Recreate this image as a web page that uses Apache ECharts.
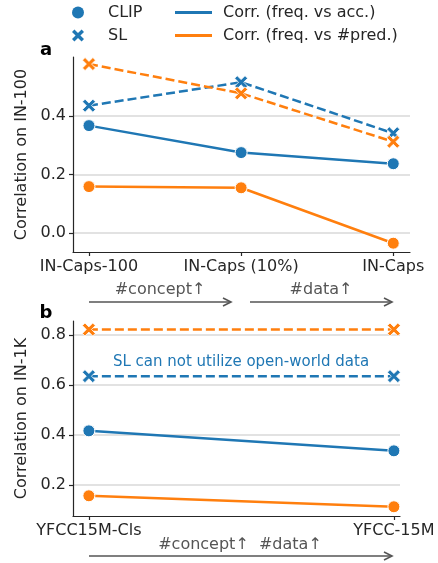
<!DOCTYPE html>
<html><head><meta charset="utf-8">
<script src="https://cdn.jsdelivr.net/npm/echarts@6/dist/echarts.min.js"></script>
<style>html,body{margin:0;padding:0;background:#fff}#c{width:438px;height:563px}</style>
</head><body><div id="c"></div>
<script>
const categoriesA = ['IN-Caps-100', 'IN-Caps (10%)', 'IN-Caps'];
const clipAccA = [0.367, 0.275, 0.237];
const clipPredA = [0.159, 0.155, -0.034];
const slAccA = [0.435, 0.515, 0.341];
const slPredA = [0.577, 0.477, 0.312];
const yTicksA = [0, 0.2, 0.4];

const categoriesB = ['YFCC15M-Cls', 'YFCC-15M'];
const clipAccB = [0.417, 0.337];
const clipPredB = [0.157, 0.113];
const slAccB = [0.636, 0.636];
const slPredB = [0.823, 0.823];
const yTicksB = [0.2, 0.4, 0.6, 0.8];

const BLUE = '#1f77b4', ORANGE = '#ff7f0e', INK = '#262626', GREY = '#555555';
const FONT = 'DejaVu Sans';
const FS = 16;
const XSYM = 'path://M0,2 L2,0 L5,3 L8,0 L10,2 L7,5 L10,8 L8,10 L5,7 L2,10 L0,8 L3,5 Z';

const chart = echarts.init(document.getElementById('c'), null, {renderer: 'canvas'});

function toPts(arr) { return arr.map((v, i) => [i, v]); }
function xAxisFor(cats, gi, min, max) {
  const idx = cats.map((_, i) => i);
  return {
    type: 'value', gridIndex: gi, min: min, max: max,
    axisLine: {show: true, onZero: false, lineStyle: {color: INK, width: 1.2}},
    axisTick: {show: true, customValues: idx, length: 4, lineStyle: {color: INK, width: 1.2}},
    axisLabel: {customValues: idx, formatter: v => cats[Math.round(v)], color: INK, fontSize: FS, fontFamily: FONT, margin: 7},
    splitLine: {show: false}
  };
}
function yAxisFor(ticks, gi, min, max, name) {
  return {
    type: 'value', gridIndex: gi, min: min, max: max,
    name: name, nameLocation: 'middle', nameGap: 42,
    nameTextStyle: {color: INK, fontSize: FS, fontFamily: FONT},
    axisLine: {show: true, onZero: false, lineStyle: {color: INK, width: 1.2}},
    axisTick: {show: true, customValues: ticks, length: 4, lineStyle: {color: INK, width: 1.2}},
    axisLabel: {customValues: ticks, formatter: v => v.toFixed(1), color: INK, fontSize: FS, fontFamily: FONT, margin: 7},
    splitLine: {show: true, lineStyle: {color: '#d9d9d9', width: 1.6}}
  };
}
function ser(name, data, gi, color, dashed, sym) {
  return {
    name: name, type: 'line', xAxisIndex: gi, yAxisIndex: gi,
    data: toPts(data), color: color,
    symbol: sym === 'x' ? XSYM : 'circle', symbolSize: sym === 'x' ? 13 : 12,
    lineStyle: {color: color, width: 2.5, type: dashed ? [9, 4] : 'solid'},
    itemStyle: {color: color, borderColor: '#fff', borderWidth: sym === 'x' ? 0.8 : 1},
    emphasis: {disabled: true}, silent: true, animation: false
  };
}
function dummy(name, color, sym) {
  return {name: name, type: 'line', data: [], xAxisIndex: 0, yAxisIndex: 0, color: color,
    symbol: sym, itemStyle: {color: color}, lineStyle: {color: color}};
}

const series = [
  ser('CLIP acc A', clipAccA, 0, BLUE, false, 'o'),
  ser('SL acc A', slAccA, 0, BLUE, true, 'x'),
  ser('CLIP pred A', clipPredA, 0, ORANGE, false, 'o'),
  ser('SL pred A', slPredA, 0, ORANGE, true, 'x'),
  ser('CLIP acc B', clipAccB, 1, BLUE, false, 'o'),
  ser('SL acc B', slAccB, 1, BLUE, true, 'x'),
  ser('CLIP pred B', clipPredB, 1, ORANGE, false, 'o'),
  ser('SL pred B', slPredB, 1, ORANGE, true, 'x'),
  dummy('CLIP', BLUE, 'circle'),
  dummy('SL', BLUE, XSYM),
  dummy('Corr. (freq. vs acc.)', BLUE, 'none'),
  dummy('Corr. (freq. vs #pred.)', ORANGE, 'none')
];

function arrow(x1, x2, y) {
  return [
    {type: 'line', shape: {x1: x1, y1: y, x2: x2, y2: y}, style: {stroke: GREY, lineWidth: 1.6}},
    {type: 'polyline', shape: {points: [[x2 - 8, y - 4], [x2, y], [x2 - 8, y + 4]]}, style: {stroke: GREY, lineWidth: 1.6, fill: null}}
  ];
}
function txt(t, x, y, color, size, weight) {
  return {type: 'text', x: x, y: y, style: {text: t, fill: color, font: (weight || 'normal') + ' ' + size + 'px "' + FONT + '"', textAlign: 'center', textVerticalAlign: 'middle'}};
}

const option = {
  animation: false,
  backgroundColor: '#fff',
  grid: [
    {left: 73, top: 57, width: 337, height: 195},
    {left: 73, top: 321, width: 327, height: 195}
  ],
  xAxis: [xAxisFor(categoriesA, 0, -0.105, 2.11), xAxisFor(categoriesB, 1, -0.052, 1.02)],
  yAxis: [yAxisFor(yTicksA, 0, -0.064, 0.601, 'Correlation on IN-100'), yAxisFor(yTicksB, 1, 0.076, 0.857, 'Correlation on IN-1K')],
  legend: [
    {data: [{name: 'CLIP', icon: 'circle'}, {name: 'SL', icon: XSYM}], orient: 'vertical', left: 67, top: -2,
      itemWidth: 12, itemHeight: 12, itemGap: 4, selectedMode: false,
      textStyle: {color: INK, fontSize: FS, fontFamily: FONT, lineHeight: 19, padding: [0, 0, 0, 19]}},
    {data: ['Corr. (freq. vs acc.)', 'Corr. (freq. vs #pred.)'], icon: 'rect', orient: 'vertical', left: 170, top: -2,
      itemWidth: 37, itemHeight: 3, itemGap: 4, selectedMode: false,
      textStyle: {color: INK, fontSize: FS, fontFamily: FONT, lineHeight: 19, padding: [0, 0, 0, 6]}}
  ],
  series: series,
  graphic: [
    txt('a', 46, 50, '#000', 18, 'bold'),
    txt('b', 46, 313, '#000', 18, 'bold'),
    txt('#concept↑', 160, 290, GREY, FS),
    txt('#data↑', 321, 290, GREY, FS),
    ...arrow(89, 231, 302),
    ...arrow(250, 392, 302),
    txt('SL can not utilize open-world data', 241, 362, BLUE, 15),
    txt('#concept↑  #data↑', 240, 545, GREY, FS),
    ...arrow(89, 392, 556)
  ]
};
chart.setOption(option);
</script></body></html>
